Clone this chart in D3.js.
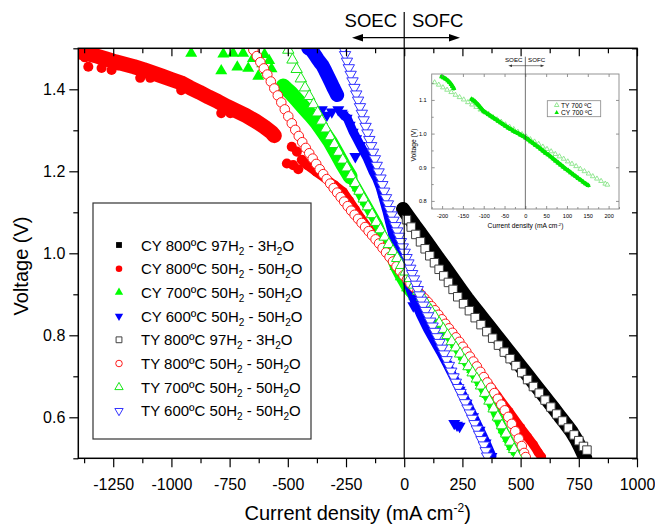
<!DOCTYPE html>
<html><head><meta charset="utf-8">
<script src="https://cdn.jsdelivr.net/npm/d3@7"></script>
<style>body{margin:0;background:#fff;} text{font-family:"Liberation Sans",Arial,sans-serif;fill:#000;}</style>
</head><body>
<svg id="c" width="655" height="525"></svg>
<script>
// ---------- DATA ----------
const xTicks = [-1250,-1000,-750,-500,-250,0,250,500,750,1000];
const xMinor = [-1375,-1125,-875,-625,-375,-125,125,375,625,875];
const yTicks = [0.6,0.8,1.0,1.2,1.4];
const yMinor = [0.5,0.7,0.9,1.1,1.3,1.5];
const legendLabels = ["CY 800ºC 97H_2 - 3H_2O","CY 800ºC 50H_2 - 50H_2O","CY 700ºC 50H_2 - 50H_2O","CY 600ºC 50H_2 - 50H_2O",
  "TY 800ºC 97H_2 - 3H_2O","TY 800ºC 50H_2 - 50H_2O","TY 700ºC 50H_2 - 50H_2O","TY 600ºC 50H_2 - 50H_2O"];

const cy800_97 = [[-5,1.108],[20,1.088],[45,1.068],[70,1.049],[95,1.029],[120,1.009],[145,0.989],[170,0.970],[195,0.950],[220,0.930],[245,0.910],[270,0.890],[295,0.872],[320,0.854],[345,0.836],[370,0.818],[395,0.800],[420,0.782],[445,0.764],[470,0.746],[495,0.728],[520,0.710],[545,0.692],[570,0.674],[595,0.656],[620,0.638],[645,0.620],[670,0.601],[695,0.583],[720,0.564],[740,0.545],[755,0.528],[768,0.512],[778,0.500]];

const cy800_50a = [[-1400,1.492],[-1360,1.487],[-1320,1.481],[-1280,1.474],[-1240,1.467],[-1200,1.461],[-1160,1.455],[-1120,1.448],[-1080,1.440],[-1040,1.432],[-1000,1.424],[-960,1.416],[-920,1.404],[-880,1.393],[-840,1.381],[-800,1.370],[-760,1.358],[-720,1.347],[-680,1.336],[-640,1.323],[-600,1.308],[-570,1.295],[-558,1.287]];
const cy800_50blobs = [[-1390,1.488],[-1372,1.478],[-1357,1.455],[-1300,1.452],[-1257,1.447],[-1230,1.458],[-1134,1.428],[-1091,1.428],[-958,1.398],[-786,1.342],[-747,1.342],[-483,1.26],[-461,1.248],[-504,1.219],[-477,1.215],[-440,1.228],[-455,1.205]];
const cy800_50b = [[-430,1.222],[-418,1.215],[-380,1.199],[-340,1.183],[-300,1.167],[-262,1.150],[-235,1.128],[-210,1.107],[-185,1.085],[-155,1.062],[-116,1.040],[-90,1.021],[-65,1.000],[-39,0.980],[0,0.952],[50,0.916],[100,0.880],[150,0.844],[200,0.806],[250,0.768],[300,0.729],[350,0.690],[400,0.652],[450,0.614],[500,0.575],[530,0.552],[555,0.533],[575,0.515],[590,0.503]];

const cy700scatter = [[-915,1.488],[-777,1.486],[-735,1.488],[-786,1.445],[-717,1.454],[-692,1.488],[-670,1.451],[-650,1.475],[-627,1.432],[-610,1.462],[-600,1.485],[-593,1.445],[-580,1.47],[-570,1.45]];
const cy700band = [[-520,1.408],[-505,1.400],[-490,1.393],[-462,1.375],[-434,1.357],[-404,1.338],[-374,1.318],[-346,1.295],[-318,1.272],[-290,1.244],[-262,1.215],[-232,1.187],[-202,1.159],[-168,1.125],[-140,1.097],[-112,1.069],[-85,1.030],[-60,0.995],[-40,0.967],[-17,0.942],[10,0.915],[40,0.895],[70,0.876],[112,0.855],[150,0.830],[184,0.806],[220,0.777],[253,0.747],[290,0.716],[326,0.684],[355,0.655],[383,0.625],[405,0.597],[425,0.569],[445,0.548],[462,0.528],[480,0.515],[498,0.503]];

const cy600a = [[-412,1.50],[-400,1.497],[-391,1.49],[-381,1.482],[-372,1.474],[-362,1.466],[-352,1.459],[-339,1.445],[-326,1.43],[-315,1.417],[-305,1.405],[-296,1.395],[-288,1.386]];
const cy600scatter = [[-354,1.35],[-332,1.337],[-311,1.345],[-283,1.35],[-268,1.342],[-210,1.236],[39,0.872],[215,0.585],[227,0.581],[238,0.578]];
const cy600b = [[-262,1.338],[-245,1.33],[-232,1.313],[-219,1.296],[-204,1.28],[-189,1.264],[-174,1.248],[-159,1.232],[-146,1.215],[-133,1.198],[-118,1.182],[-103,1.16],[-88,1.13],[-73,1.10],[-60,1.07],[-47,1.04],[-32,1.01],[-17,0.98],[0,0.955],[13,0.93],[40,0.89],[70,0.85],[100,0.815],[130,0.785],[155,0.76],[183,0.73],[211,0.699],[240,0.667],[270,0.635],[298,0.602],[326,0.569],[352,0.538],[377,0.505]];

const ty800_97 = [[10,1.082],[30,1.064],[50,1.046],[70,1.028],[90,1.011],[110,0.994],[130,0.977],[150,0.961],[170,0.945],[190,0.929],[210,0.912],[230,0.894],[255,0.877],[280,0.860],[305,0.843],[330,0.826],[355,0.809],[380,0.793],[405,0.776],[430,0.759],[455,0.743],[480,0.726],[505,0.709],[530,0.692],[555,0.675],[580,0.659],[605,0.642],[630,0.625],[655,0.608],[680,0.591],[705,0.574],[730,0.557],[750,0.543],[770,0.529],[785,0.520]];

const ty800_50 = [[-648,1.496],[-633,1.481],[-618,1.466],[-603,1.451],[-588,1.436],[-573,1.419],[-558,1.402],[-543,1.385],[-528,1.368],[-513,1.351],[-498,1.334],[-483,1.317],[-468,1.301],[-453,1.286],[-438,1.271],[-423,1.257],[-408,1.244],[-393,1.231],[-378,1.218],[-363,1.205],[-348,1.193],[-333,1.181],[-318,1.170],[-303,1.159],[-288,1.148],[-273,1.137],[-258,1.126],[-243,1.115],[-228,1.104],[-213,1.094],[-198,1.084],[-183,1.074],[-168,1.064],[-153,1.054],[-138,1.044],[-123,1.034],[-108,1.024],[-93,1.013],[-78,1.002],[-63,0.991],[-48,0.980],[-33,0.968],[-18,0.957],[-3,0.946],[12,0.936],[27,0.926],[42,0.917],[57,0.908],[72,0.899],[87,0.890],[102,0.881],[117,0.871],[132,0.861],[147,0.850],[162,0.839],[177,0.828],[192,0.817],[207,0.806],[222,0.795],[237,0.784],[252,0.772],[267,0.760],[282,0.748],[297,0.736],[312,0.724],[327,0.711],[342,0.698],[357,0.685],[372,0.672],[387,0.659],[402,0.645],[417,0.631],[432,0.617],[447,0.601],[462,0.584],[477,0.566],[492,0.548],[505,0.530],[515,0.513],[522,0.503]];

const ty700 = [[-498,1.496],[-480,1.472],[-462,1.449],[-444,1.426],[-426,1.404],[-408,1.383],[-390,1.363],[-372,1.343],[-354,1.323],[-336,1.304],[-318,1.285],[-300,1.266],[-282,1.247],[-264,1.228],[-246,1.209],[-228,1.190],[-210,1.171],[-192,1.152],[-174,1.133],[-156,1.114],[-138,1.095],[-120,1.076],[-102,1.058],[-84,1.040],[-66,1.022],[-48,1.005],[-30,0.988],[-12,0.971],[6,0.955],[24,0.939],[42,0.923],[60,0.908],[78,0.893],[96,0.877],[114,0.861],[132,0.846],[150,0.830],[168,0.815],[186,0.800],[204,0.785],[222,0.770],[240,0.755],[258,0.739],[276,0.724],[294,0.709],[312,0.694],[330,0.677],[348,0.659],[366,0.640],[384,0.621],[402,0.601],[420,0.580],[438,0.560],[456,0.540],[472,0.522],[486,0.505]];

const ty600 = [[-262,1.500],[-254,1.484],[-246,1.468],[-238,1.452],[-230,1.436],[-222,1.420],[-214,1.404],[-206,1.388],[-198,1.373],[-190,1.357],[-182,1.341],[-174,1.325],[-166,1.309],[-158,1.293],[-150,1.277],[-142,1.262],[-134,1.246],[-126,1.230],[-118,1.214],[-110,1.198],[-102,1.183],[-94,1.167],[-86,1.151],[-78,1.135],[-70,1.120],[-62,1.106],[-54,1.093],[-46,1.080],[-38,1.067],[-30,1.054],[-22,1.041],[-14,1.028],[-6,1.015],[2,1.002],[10,0.989],[18,0.976],[26,0.963],[34,0.950],[42,0.937],[50,0.924],[58,0.911],[66,0.898],[74,0.885],[82,0.873],[92,0.860],[102,0.847],[112,0.834],[122,0.822],[132,0.809],[142,0.796],[152,0.782],[162,0.768],[172,0.754],[182,0.740],[192,0.726],[202,0.712],[212,0.698],[222,0.685],[232,0.672],[242,0.660],[252,0.647],[262,0.635],[272,0.622],[282,0.610],[292,0.597],[302,0.584],[312,0.571],[322,0.558],[332,0.545],[342,0.532],[350,0.518],[356,0.505]];

// inset
const insetXTicks = [-200,-150,-100,-50,0,50,100,150,200];
const insetXMinor = [-225,-175,-125,-75,-25,25,75,125,175,225];
const insetYTicks = [0.8,0.9,1.0,1.1];
const insetYMinor = [0.85,0.95,1.05,1.15];
const insetLegend = ["TY 700 ºC","CY 700 ºC"];
const insetTY700 = [[-218,1.152],[-208,1.145],[-198,1.137],[-188,1.130],[-178,1.123],[-168,1.115],[-158,1.108],[-148,1.101],[-138,1.093],[-128,1.086],[-118,1.079],[-108,1.071],[-98,1.064],[-88,1.057],[-78,1.049],[-68,1.042],[-58,1.035],[-48,1.027],[-38,1.020],[-28,1.013],[-18,1.005],[-8,0.998],[2,0.991],[12,0.983],[22,0.976],[32,0.969],[42,0.961],[52,0.954],[62,0.947],[72,0.939],[82,0.932],[92,0.925],[102,0.917],[112,0.910],[122,0.903],[132,0.895],[142,0.888],[152,0.881],[162,0.873],[172,0.866],[182,0.859],[192,0.851],[197,0.848]];
const insetCY700a = [[-201,1.169],[-196,1.166],[-191,1.162],[-186,1.157],[-182,1.152],[-178,1.146],[-175,1.140],[-172,1.134]];
const insetCY700b = [[-129,1.102],[-125,1.099],[-121,1.095],[-117,1.090],[-113,1.085],[-109,1.079],[-105,1.073],[-101,1.067],[-95,1.062],[-89,1.057],[-83,1.052],[-77,1.047],[-71,1.042],[-65,1.037],[-59,1.032],[-53,1.027],[-47,1.022],[-41,1.017],[-35,1.013],[-29,1.008],[-23,1.004],[-17,1.000],[-11,0.996],[-5,0.992],[1,0.987],[7,0.982],[13,0.976],[19,0.971],[25,0.965],[31,0.960],[37,0.954],[43,0.948],[49,0.942],[55,0.937],[61,0.931],[67,0.925],[73,0.919],[79,0.913],[85,0.907],[91,0.901],[97,0.895],[103,0.890],[109,0.884],[115,0.878],[121,0.873],[127,0.867],[133,0.862],[139,0.856],[145,0.851],[151,0.846]];

// ---------- DRAW ----------
const svg = d3.select("#c");
const L=78.3, R=637, T=48.3, B=458.3;
const X = d3.scaleLinear().domain([-1400,1000]).range([L,R]);
const Y = d3.scaleLinear().domain([0.5,1.5]).range([B,T]);

svg.append("defs").append("clipPath").attr("id","clip").append("rect")
  .attr("x",L).attr("y",T).attr("width",R-L).attr("height",B-T);

const plot = svg.append("g").attr("clip-path","url(#clip)");

const styles = {
  cy800_97:{type:d3.symbolSquare,size:72,fill:"#000",stroke:"none",color:"#000"},
  cy800_50:{type:d3.symbolCircle,size:66,fill:"#ff0000",stroke:"none",color:"#ff0000"},
  cy700:{type:d3.symbolTriangle,size:52,fill:"#00ff00",stroke:"none",color:"#00ff00"},
  cy600:{type:d3.symbolTriangle,size:52,fill:"#0000ff",stroke:"none",color:"#0000ff",down:true},
  ty800_97:{type:d3.symbolSquare,size:72,fill:"#fff",stroke:"#404040",sw:1},
  ty800_50:{type:d3.symbolCircle,size:72,fill:"#fff",stroke:"#ff1a1a",sw:1},
  ty700:{type:d3.symbolTriangle,size:56,fill:"#fff",stroke:"#19e619",sw:1},
  ty600:{type:d3.symbolTriangle,size:56,fill:"#fff",stroke:"#3333ff",sw:1,down:true}
};

function band(g, data, st, w, xs, ys){
  g.append("path").datum(data)
    .attr("d", d3.line().x(d=>xs(d[0])).y(d=>ys(d[1])))
    .attr("fill","none").attr("stroke",st.color).attr("stroke-width",w)
    .attr("stroke-linejoin","round").attr("stroke-linecap","round");
}
function marks(g, data, st, xs, ys, size){
  g.append("g").selectAll("path").data(data).join("path")
    .attr("d", d3.symbol(st.type, size||st.size))
    .attr("transform", d=>`translate(${xs(d[0])},${ys(d[1])})${st.down?" rotate(180)":""}`)
    .attr("fill", st.fill).attr("stroke", st.stroke).attr("stroke-width", st.sw||0);
}

// CY series
band(plot, cy800_97, styles.cy800_97, 14, X, Y); marks(plot, cy800_97, styles.cy800_97, X, Y);
band(plot, cy800_50a, styles.cy800_50, 15, X, Y); marks(plot, cy800_50a, styles.cy800_50, X, Y);
marks(plot, cy800_50blobs, styles.cy800_50, X, Y, 80);
band(plot, cy800_50b, styles.cy800_50, 9, X, Y); marks(plot, cy800_50b, styles.cy800_50, X, Y);
marks(plot, cy700scatter, styles.cy700, X, Y, 62);
band(plot, cy700band.slice(0,12), styles.cy700, 15, X, Y);
band(plot, cy700band, styles.cy700, 10, X, Y); marks(plot, cy700band, styles.cy700, X, Y);
band(plot, cy600a, styles.cy600, 14, X, Y); marks(plot, cy600a, styles.cy600, X, Y);
marks(plot, cy600scatter, styles.cy600, X, Y, 62);
band(plot, cy600b, styles.cy600, 9, X, Y); marks(plot, cy600b, styles.cy600, X, Y);
// TY series
marks(plot, ty800_97, styles.ty800_97, X, Y);
marks(plot, ty800_50, styles.ty800_50, X, Y);
marks(plot, ty700, styles.ty700, X, Y);
marks(plot, ty600, styles.ty600, X, Y);

// zero line
svg.append("line").attr("x1",X(0)).attr("x2",X(0)).attr("y1",12).attr("y2",B)
  .attr("stroke","#000").attr("stroke-width",1.2);

// axes
function styleAxis(g){ g.select(".domain").remove(); g.selectAll("line").attr("stroke","#000").attr("stroke-width",1.2);
  g.selectAll("text").attr("font-family",'"Liberation Sans",Arial,sans-serif'); }
const fmtX = d=>String(d);
svg.append("g").attr("transform",`translate(0,${B})`)
  .call(d3.axisBottom(X).tickValues(xTicks).tickFormat(fmtX).tickSize(9).tickPadding(11))
  .call(styleAxis).call(g=>g.selectAll("text").attr("font-size",16));
svg.append("g").attr("transform",`translate(0,${B})`)
  .call(d3.axisBottom(X).tickValues(xMinor).tickFormat("").tickSize(5)).call(styleAxis);
svg.append("g").attr("transform",`translate(0,${T})`)
  .call(d3.axisTop(X).tickValues(xTicks).tickFormat("").tickSize(-8)).call(styleAxis);
svg.append("g").attr("transform",`translate(0,${T})`)
  .call(d3.axisTop(X).tickValues(xMinor).tickFormat("").tickSize(-5)).call(styleAxis);
svg.append("g").attr("transform",`translate(${L},0)`)
  .call(d3.axisLeft(Y).tickValues(yTicks).tickFormat(d3.format(".1f")).tickSize(9).tickPadding(4))
  .call(styleAxis).call(g=>g.selectAll("text").attr("font-size",16));
svg.append("g").attr("transform",`translate(${L},0)`)
  .call(d3.axisLeft(Y).tickValues(yMinor).tickFormat("").tickSize(5)).call(styleAxis);
svg.append("g").attr("transform",`translate(${R},0)`)
  .call(d3.axisRight(Y).tickValues(yTicks).tickFormat("").tickSize(-8)).call(styleAxis);
svg.append("g").attr("transform",`translate(${R},0)`)
  .call(d3.axisRight(Y).tickValues(yMinor).tickFormat("").tickSize(-5)).call(styleAxis);
svg.append("rect").attr("x",L).attr("y",T).attr("width",R-L).attr("height",B-T)
  .attr("fill","none").attr("stroke","#000").attr("stroke-width",1.5);

// axis titles
const xt = svg.append("text").attr("x",(L+R)/2).attr("y",520).attr("text-anchor","middle").attr("font-size",20);
xt.append("tspan").text("Current density (mA cm");
xt.append("tspan").text("-2").attr("font-size",12).attr("dy",-8);
xt.append("tspan").text(")").attr("dy",8);
svg.append("text").attr("transform","translate(28,266) rotate(-90)").attr("text-anchor","middle")
  .attr("font-size",20).text("Voltage (V)");

// SOEC / SOFC
svg.append("text").attr("x",397).attr("y",27).attr("text-anchor","end").attr("font-size",18.5).text("SOEC");
svg.append("text").attr("x",412).attr("y",27).attr("text-anchor","start").attr("font-size",18.5).text("SOFC");
svg.append("line").attr("x1",358).attr("x2",454).attr("y1",37.7).attr("y2",37.7).attr("stroke","#000").attr("stroke-width",1.2);
svg.append("path").attr("d","M352,37.7 L363,34 L363,41.4 Z").attr("fill","#000");
svg.append("path").attr("d","M460,37.7 L449,34 L449,41.4 Z").attr("fill","#000");

// legend
svg.append("rect").attr("x",93).attr("y",203).attr("width",218).attr("height",236)
  .attr("fill","#fff").attr("stroke","#333").attr("stroke-width",1.2);
const legOrder = ["cy800_97","cy800_50","cy700","cy600","ty800_97","ty800_50","ty700","ty600"];
const legRows = legendLabels.map((lab,i)=>({lab, key:legOrder[i], y:245+i*23.7}));
legRows.forEach(r=>{
  const st = Object.assign({}, styles[r.key]);
  const sz = st.type===d3.symbolTriangle ? 30 : 34;
  svg.append("path").attr("d", d3.symbol(st.type, sz)())
    .attr("transform",`translate(119,${r.y})${st.down?" rotate(180)":""}`)
    .attr("fill",st.fill).attr("stroke",st.stroke).attr("stroke-width",st.sw||0);
  const t = svg.append("text").attr("x",141).attr("y",r.y+5.5).attr("font-size",15);
  const parts = r.lab.split("_2");
  parts.forEach((p,j)=>{
    const ts = t.append("tspan").text(p);
    if(j>0) ts.attr("dy",-4);
    if(j<parts.length-1) t.append("tspan").text("2").attr("font-size",10).attr("dy",4);
  });
});

// ---------- INSET ----------
const iL=431.7, iR=619, iT=74, iB=209;
const XI = d3.scaleLinear().domain([-225,225]).range([iL,iR]);
const YI = d3.scaleLinear().domain([0.776,1.177]).range([iB,iT]);
const inset = svg.append("g");
inset.append("rect").attr("x",iL).attr("y",iT).attr("width",iR-iL).attr("height",iB-iT).attr("fill","#fff");
const stTYi = {type:d3.symbolTriangle,size:10,fill:"#fff",stroke:"#88e488",sw:0.9};
const stCYi = {type:d3.symbolTriangle,size:12,fill:"#00e600",stroke:"none",color:"#00e600"};
marks(inset, insetTY700, stTYi, XI, YI);
band(inset, insetCY700a, stCYi, 4, XI, YI); marks(inset, insetCY700a, stCYi, XI, YI);
band(inset, insetCY700b, stCYi, 4, XI, YI); marks(inset, insetCY700b, stCYi, XI, YI);

function styleI(g){ g.select(".domain").remove(); g.selectAll("line").attr("stroke","#777").attr("stroke-width",0.8);
  g.selectAll("text").attr("font-size",5.6).attr("fill","#333"); }
inset.append("g").attr("transform",`translate(0,${iB})`).call(d3.axisBottom(XI).tickValues(insetXTicks).tickFormat(fmtX).tickSize(-3).tickPadding(5)).call(styleI);
inset.append("g").attr("transform",`translate(0,${iB})`).call(d3.axisBottom(XI).tickValues(insetXMinor).tickFormat("").tickSize(-2)).call(styleI);
inset.append("g").attr("transform",`translate(0,${iT})`).call(d3.axisTop(XI).tickValues(insetXTicks).tickFormat("").tickSize(-3)).call(styleI);
inset.append("g").attr("transform",`translate(${iL},0)`).call(d3.axisLeft(YI).tickValues(insetYTicks).tickFormat(d3.format(".1f")).tickSize(-3).tickPadding(5)).call(styleI);
inset.append("g").attr("transform",`translate(${iL},0)`).call(d3.axisLeft(YI).tickValues(insetYMinor).tickFormat("").tickSize(-2)).call(styleI);
inset.append("g").attr("transform",`translate(${iR},0)`).call(d3.axisRight(YI).tickValues(insetYTicks).tickFormat("").tickSize(-3)).call(styleI);
inset.append("rect").attr("x",iL).attr("y",iT).attr("width",iR-iL).attr("height",iB-iT)
  .attr("fill","none").attr("stroke","#888").attr("stroke-width",0.9);
inset.append("line").attr("x1",XI(0)).attr("x2",XI(0)).attr("y1",56.7).attr("y2",iB).attr("stroke","#333").attr("stroke-width",0.7);
inset.append("text").attr("x",522.5).attr("y",62).attr("text-anchor","end").attr("font-size",6.2).attr("fill","#333").text("SOEC");
inset.append("text").attr("x",528).attr("y",62).attr("font-size",6.2).attr("fill","#333").text("SOFC");
inset.append("line").attr("x1",510).attr("x2",542.5).attr("y1",65.7).attr("y2",65.7).attr("stroke","#333").attr("stroke-width",0.6);
inset.append("path").attr("d","M508.3,65.7 L512,64.4 L512,67 Z").attr("fill","#333");
inset.append("path").attr("d","M544.3,65.7 L540.6,64.4 L540.6,67 Z").attr("fill","#333");
const ixt = inset.append("text").attr("x",525.5).attr("y",228.3).attr("text-anchor","middle").attr("font-size",6.7).attr("fill","#333");
ixt.append("tspan").text("Current density (mA cm");
ixt.append("tspan").text("-2").attr("font-size",4.2).attr("dy",-2.6);
ixt.append("tspan").text(")").attr("dy",2.6);
inset.append("text").attr("transform","translate(415.8,145) rotate(-90)").attr("text-anchor","middle")
  .attr("font-size",6.7).attr("fill","#333").text("Voltage (V)");
// inset legend
inset.append("rect").attr("x",547.3).attr("y",100.7).attr("width",53.4).attr("height",16)
  .attr("fill","#fff").attr("stroke","#888").attr("stroke-width",0.8);
[stTYi, stCYi].forEach((st,i)=>{
  const yy = 105.2 + i*7.5;
  inset.append("path").attr("d", d3.symbol(st.type, 9)()).attr("transform",`translate(556.7,${yy})`)
    .attr("fill",st.fill).attr("stroke",st.stroke).attr("stroke-width",st.sw||0);
  inset.append("text").attr("x",561).attr("y",yy+2.3).attr("font-size",6.7).attr("fill","#333").text(insetLegend[i]);
});
</script>
</body></html>
